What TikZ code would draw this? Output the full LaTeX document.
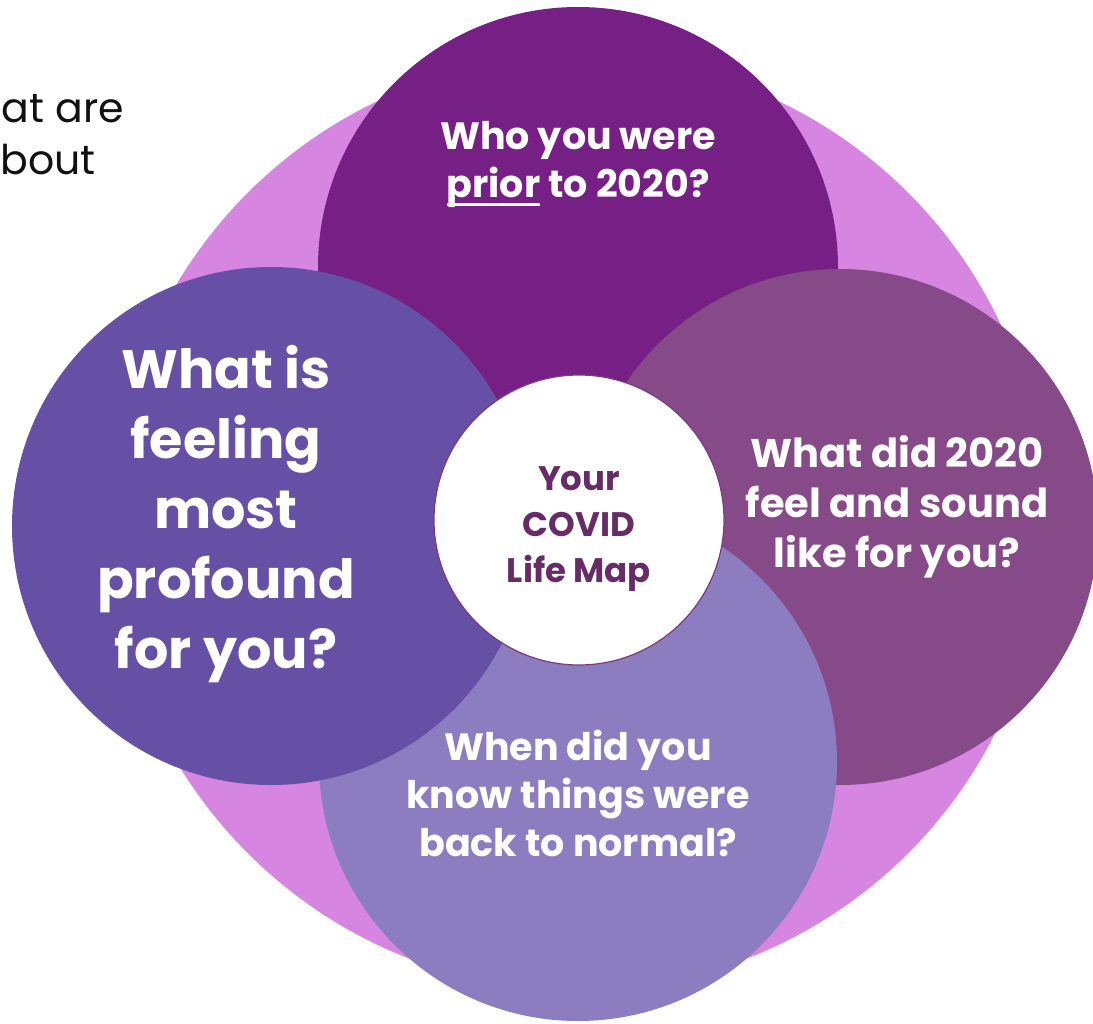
\documentclass[tikz,border=0pt]{standalone}
\usepackage{fontspec}
\setmainfont{Poppins}
\definecolor{bgpink}{HTML}{D685E1}
\definecolor{ctop}{HTML}{761F84}
\definecolor{cright}{HTML}{864A88}
\definecolor{cbottom}{HTML}{8C7DC1}
\definecolor{cleft}{HTML}{6550A6}
\definecolor{cborder}{HTML}{7A3A7E}
\definecolor{hubtext}{HTML}{672C67}
\definecolor{slidetext}{HTML}{111111}
\newcommand\ulword[1]{\setbox0\hbox{#1}\rlap{\rule[-8pt]{\wd0}{3pt}}\box0}
\tikzset{
  disc/.style={circle, inner sep=0pt, draw=none},
  qtext/.style={text=white, align=center, inner sep=0pt, anchor=base},
}
\begin{document}
\begin{tikzpicture}[x=1pt,y=-1pt]
\useasboundingbox (0,0) rectangle (1093,1024);
\node[disc, fill=bgpink, minimum size=934pt] (bg) at (578,523) {};
\node[disc, fill=ctop, minimum size=520pt] (top) at (578,267) {};
\node[disc, fill=cright, minimum size=516pt] (right) at (840,527) {};
\node[disc, fill=cbottom, minimum size=518pt] (bottom) at (578,762) {};
\node[disc, fill=cleft, minimum size=518pt] (left) at (271,526) {};
\node[disc, fill=white, draw=cborder, line width=1.2pt, minimum size=290pt] (hub) at (579,520) {};

% base anchor = baseline of the last line
\node[qtext, font=\bfseries\fontsize{38}{48}\selectfont] (toptext) at (578,198)
  {Who you were\\\ulword{prior}\ to 2020?};
\node[qtext, font=\bfseries\fontsize{40}{50}\selectfont] (righttext) at (897,567)
  {What did 2020\\feel and sound\\like for you?};
\node[qtext, font=\bfseries\fontsize{38}{48}\selectfont] (bottomtext) at (578,856)
  {When did you\\know things were\\back to normal?};
\node[qtext, font=\bfseries\fontsize{54}{70}\selectfont] (lefttext) at (226,668)
  {What is\\feeling\\most\\profound\\for you?};
\node[qtext, text=hubtext, font=\bfseries\fontsize{34}{46}\selectfont] (hubtext) at (579,582)
  {Your\\COVID\\Life Map};

\node[anchor=base east, inner sep=0pt, text=slidetext, font=\fontsize{41}{48}\selectfont] (slide1) at (124,123) {at are};
\node[anchor=base east, inner sep=0pt, text=slidetext, font=\fontsize{41}{48}\selectfont] (slide2) at (96,175) {bout};
\end{tikzpicture}
\end{document}
